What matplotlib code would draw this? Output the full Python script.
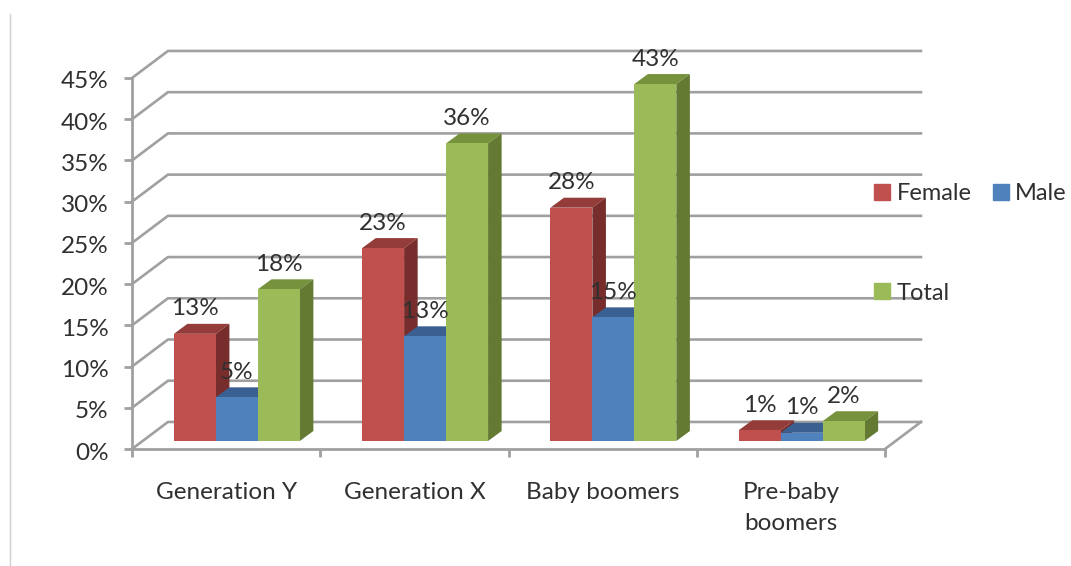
import numpy as np
import matplotlib
matplotlib.use("Agg")
import matplotlib.pyplot as plt
from matplotlib.lines import Line2D
from matplotlib.patches import Polygon, Patch
from matplotlib.transforms import ScaledTranslation

# Data
categories = ["Generation Y", "Generation X", "Baby boomers", "Pre-baby\nboomers"]
female = [13.0, 23.4, 28.3, 1.3]
male = [5.3, 12.7, 15.0, 1.0]
total = [18.4, 36.1, 43.3, 2.4]
female_labels = ["13%", "23%", "28%", "1%"]
male_labels = ["5%", "13%", "15%", "1%"]
total_labels = ["18%", "36%", "43%", "2%"]
y_ticks = list(range(0, 50, 5))

# Style
W, H = 1071, 566
GRID = "#a0a0a0"
TEXT = "#303030"
FONT = "Lato"
FS = 17.5
plt.rcParams["font.family"] = FONT

# 3D look, in data units (x = categories, y = percent)
wall_dx, wall_dy = 0.191, 3.28
base_dx, base_dy = 0.057, 0.97
bar_dx, bar_dy = 0.072, 1.21
bar_w = 0.223

fig = plt.figure(figsize=(W / 100, H / 100), dpi=100)
ax = fig.add_axes([132 / W, (H - 449) / H, 753 / W, 371 / H])
ax.set_xlim(0, 4)
ax.set_ylim(0, 45)
for s in ["top", "right"]:
    ax.spines[s].set_visible(False)
for s in ["left", "bottom"]:
    ax.spines[s].set_color(GRID)
    ax.spines[s].set_linewidth(2)

# Walls and floor
for y in y_ticks:
    ax.plot([0, wall_dx, 4 + wall_dx], [y, y + wall_dy, y + wall_dy],
            color=GRID, lw=1.9, clip_on=False, zorder=1, solid_joinstyle="miter")
ax.plot([4, 4 + wall_dx], [0, wall_dy], color=GRID, lw=1.9, clip_on=False, zorder=1)

# Ticks
ax.set_yticks(y_ticks)
ax.set_yticklabels(["%d%%" % y for y in y_ticks], fontsize=FS, color=TEXT)
ax.set_xticks(range(5))
ax.set_xticklabels([])
ax.set_xticks(np.arange(4) + 0.5, categories, minor=True, fontsize=FS, color=TEXT,
              linespacing=1.59)
ax.tick_params(axis="both", which="major", color=GRID, width=2, length=6)
ax.tick_params(axis="y", pad=11)
ax.tick_params(axis="x", which="minor", length=0, pad=24)
# tick labels sit a little under their ticks in the original
for lab in ax.get_yticklabels():
    lab.set_transform(lab.get_transform() + ScaledTranslation(0, -2 / 100, fig.dpi_scale_trans))

series = [
    (female, female_labels, "#C0504D", "#943C3A", "#772D2B"),
    (male, male_labels, "#4F81BD", "#3A6091", "#2F4E75"),
    (total, total_labels, "#9BBB59", "#76923C", "#647A33"),
]

# Bars, painted from the left so that each hides the side of the one before
z = 3
for k, (vals, labels, front, top, side) in enumerate(series):
    x = np.arange(4) + 0.5 + base_dx + (k - 1) * bar_w
    ax.bar(x, vals, bar_w, bottom=base_dy, color=front, zorder=z + 1, clip_on=False)
    for xi, v, lab in zip(x, vals, labels):
        y0 = base_dy
        y1 = base_dy + v
        xl = xi - bar_w / 2
        xr = xi + bar_w / 2
        ax.add_patch(Polygon([(xl, y1), (xr, y1), (xr + bar_dx, y1 + bar_dy), (xl + bar_dx, y1 + bar_dy)],
                             closed=True, facecolor=top, edgecolor="none", zorder=z, clip_on=False))
        ax.add_patch(Polygon([(xr, y0), (xr + bar_dx, y0 + bar_dy), (xr + bar_dx, y1 + bar_dy), (xr, y1)],
                             closed=True, facecolor=side, edgecolor="none", zorder=z, clip_on=False))
        ax.annotate(lab, (xi, y1), xytext=(0, 18), textcoords="offset points",
                    ha="center", va="center", fontsize=FS, color=TEXT, zorder=20,
                    annotation_clip=False)
    z += 2

# Legend
kw = dict(frameon=False, fontsize=17, labelcolor=TEXT, handlelength=0.68, handleheight=0.68,
          handletextpad=0.27, borderpad=0, borderaxespad=0, columnspacing=0.9)
fig.legend([Patch(color=series[0][2]), Patch(color=series[1][2])], ["Female", "Male"],
           ncol=2, loc="center left", bbox_to_anchor=(874 / W, 1 - 194 / H), **kw)
fig.legend([Patch(color=series[2][2])], ["Total"],
           loc="center left", bbox_to_anchor=(874 / W, 1 - 293 / H), **kw)

# Faint rule at the left edge of the page
fig.add_artist(Line2D([10 / W, 10 / W], [0, 1 - 14 / H], color="#cfcfcf", lw=1))

fig.savefig("out.png", dpi=100, facecolor="white")
